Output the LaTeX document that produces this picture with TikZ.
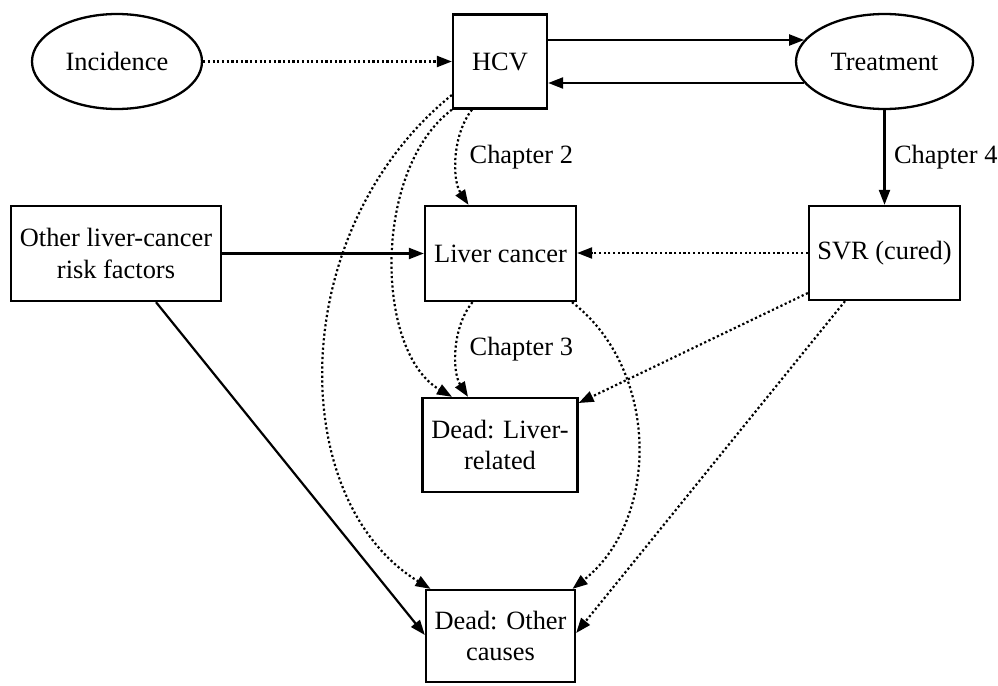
\documentclass[tikz,border=0pt]{standalone}
\usepackage{fontspec}
\setmainfont{Liberation Serif}
\usetikzlibrary{arrows.meta,shapes.geometric}
\begin{document}
\begin{tikzpicture}[x=1pt,y=-1pt,
  every node/.style={font=\fontsize{26.4}{31.7}\selectfont},
  box/.style={draw, line width=2.3pt, rectangle, inner sep=0pt, align=center},
  oval/.style={draw, line width=2.3pt, ellipse, inner sep=0pt},
  solidarrow/.style={line width=2.2pt, -{Triangle[length=15pt,width=11pt]}},
  dotarrow/.style={solidarrow, dash pattern=on 2.2pt off 2.5pt},
  lbl/.style={inner sep=0pt, anchor=west}]
\useasboundingbox (0,0) rectangle (998,685);

\node[oval, minimum width=170pt, minimum height=95pt] (inc) at (117,61.5) {Incidence};
\node[box, minimum width=94pt, minimum height=94pt] (hcv) at (500,61.5) {HCV};
\node[oval, minimum width=177pt, minimum height=95pt] (trt) at (884.5,61.5) {Treatment};
\node[box, minimum width=210pt, minimum height=95pt] (other) at (116,253.5) {Other liver-cancer\\risk factors};
\node[box, minimum width=151pt, minimum height=95pt] (lc) at (500.5,253.5) {Liver cancer};
\node[box, minimum width=151pt, minimum height=94pt] (svr) at (884.5,253) {SVR (cured)};
\node[box, minimum width=155pt, minimum height=94pt] (dl) at (500,445) {Dead: Liver-\\related};
\node[box, minimum width=149pt, minimum height=92pt] (dother) at (500.5,636) {Dead: Other\\causes};

\draw[dotarrow] (inc) -- (hcv);
\draw[solidarrow] ([yshift=21.5pt]hcv.east) -- ([yshift=21.5pt]hcv.east -| trt.165);
\draw[solidarrow] ([yshift=-21.5pt]hcv.east -| trt.195) -- ([yshift=-21.5pt]hcv.east);
\draw[solidarrow] (trt) -- (svr) node[lbl, midway, xshift=8.5pt] {Chapter 4};
\draw[solidarrow] (other) -- (lc);
\draw[dotarrow] (svr.west) -- (svr.west -| lc.east);
\draw[dotarrow] ([xshift=-28pt]hcv.south) .. controls (452,135) and (452,180) .. ([xshift=-32pt]lc.north) node[lbl, pos=0.5, xshift=12pt] {Chapter 2};
\draw[dotarrow] (hcv.south west) .. controls (372,170) and (375,352) .. ([xshift=-48pt]dl.north);
\draw[dotarrow] ([yshift=-33.5pt]hcv.west) .. controls (285,230) and (285,500) .. ([xshift=-70pt]dother.north);
\draw[dotarrow] ([xshift=-28pt]lc.south) .. controls (452,327) and (452,372) .. ([xshift=-32pt]dl.north) node[lbl, pos=0.5, xshift=12pt] {Chapter 3};
\draw[dotarrow] ([xshift=71.5pt]lc.south) .. controls (660,370) and (660,520) .. ([xshift=72pt]dother.north);
\draw[dotarrow] ([yshift=-40pt]svr.west) -- ([yshift=42pt]dl.east);
\draw[dotarrow] ([xshift=-39.5pt]svr.south) -- ([yshift=3pt]dother.east);
\draw[solidarrow] ([xshift=40pt]other.south) -- ([yshift=1pt]dother.west);
\end{tikzpicture}
\end{document}
